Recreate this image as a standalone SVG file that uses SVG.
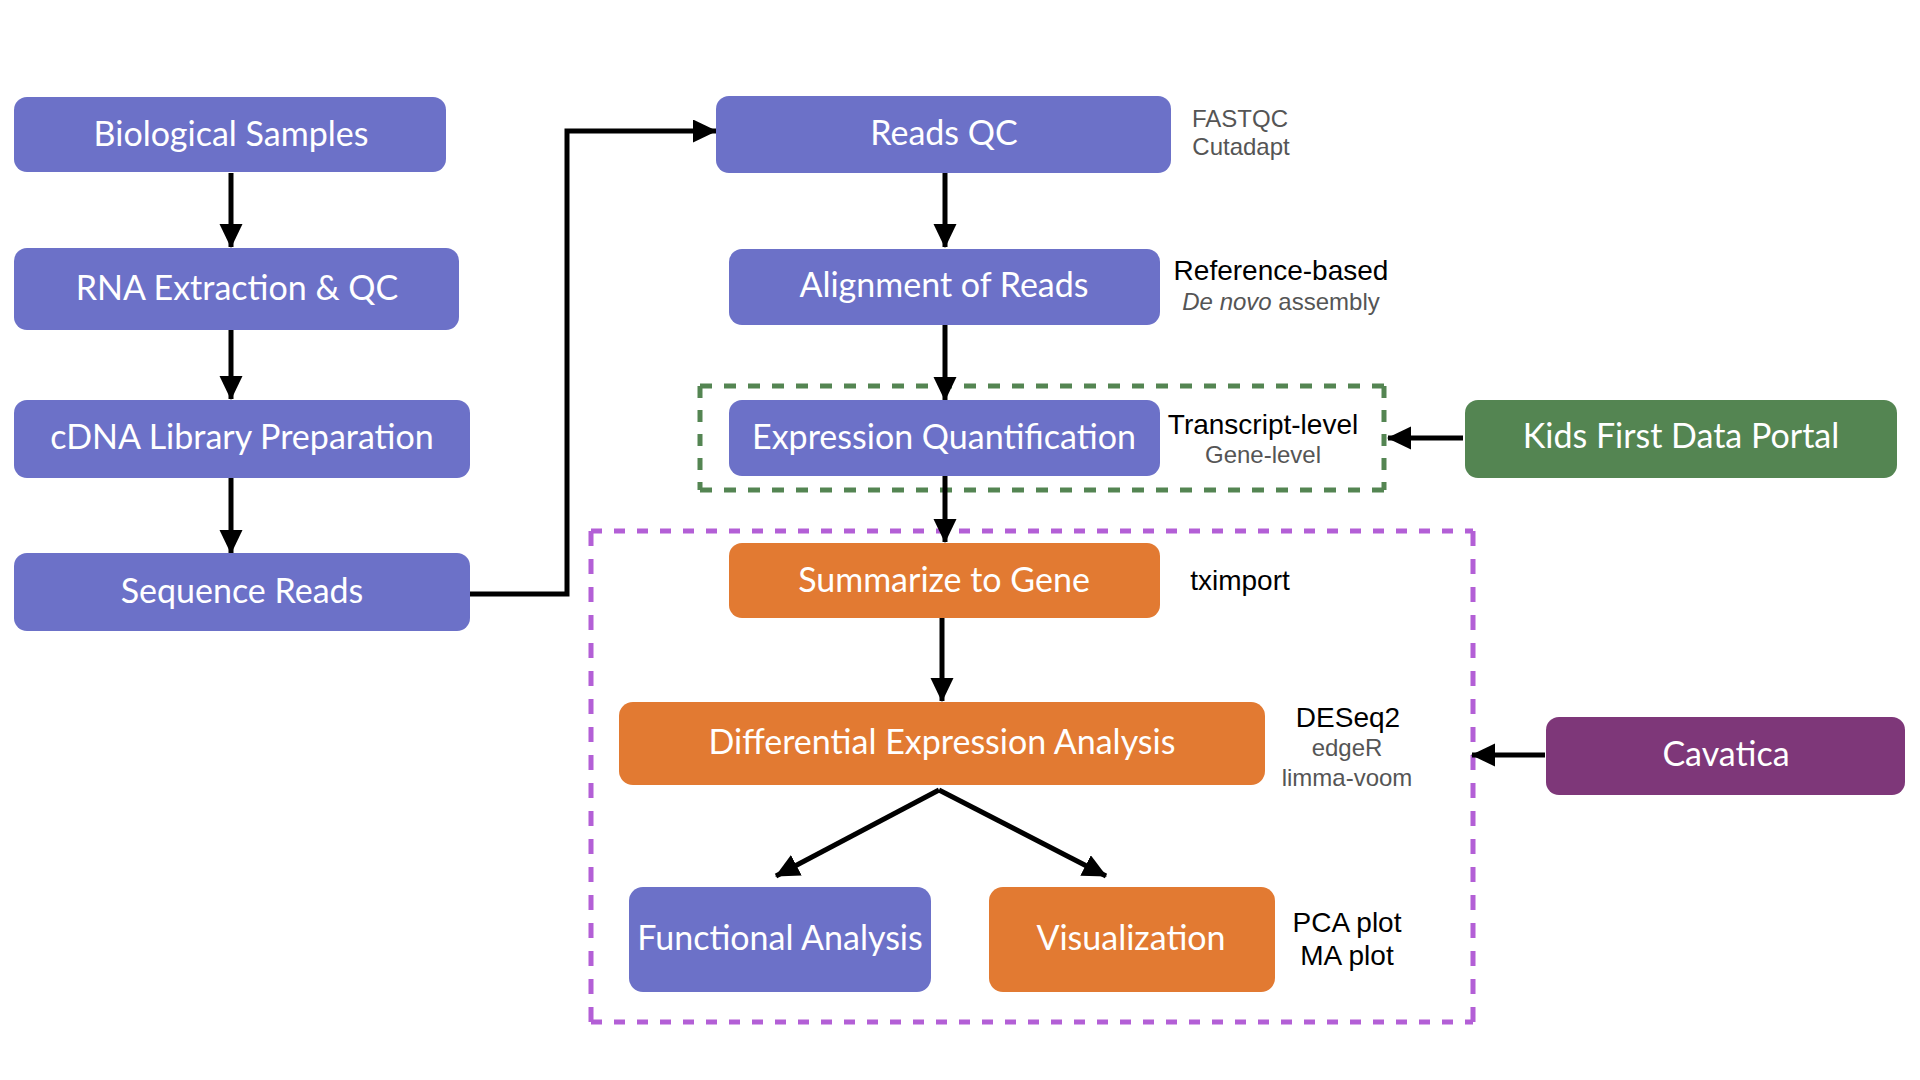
<svg xmlns="http://www.w3.org/2000/svg" width="1920" height="1080" viewBox="0 0 1920 1080">
<style>
.blue{fill:#6c71c8}
.orange{fill:#e27a32}
.green{fill:#548552}
.plum{fill:#7e3779}
.nt{font-family:Lato,"Open Sans",sans-serif;font-size:34px;fill:#ffffff;text-anchor:middle}
.lb{font-family:"Liberation Sans",Arial,sans-serif;font-size:28px;fill:#000000;text-anchor:middle}
.lg{font-family:"Liberation Sans",Arial,sans-serif;font-size:24px;fill:#555555;text-anchor:middle}
.conn{stroke:#000;stroke-width:5;fill:none}
.gd{stroke:#548552;stroke-width:5;fill:none;stroke-dasharray:12 12}
.pdh{stroke:#b35fd6;stroke-width:5;fill:none;stroke-dasharray:11 12}
.pdv{stroke:#b35fd6;stroke-width:5;fill:none;stroke-dasharray:15 13}
</style>
<defs>
<marker id="ah" markerUnits="userSpaceOnUse" markerWidth="24" markerHeight="24" refX="23" refY="11.5" orient="auto">
<path d="M0,0 L24,11.5 L0,23 z" fill="#000"/>
</marker>
</defs>
<rect width="1920" height="1080" fill="#ffffff"/>

<g id="groups">
<g id="green-box">
<line class="gd" x1="700" y1="386" x2="1384" y2="386"/>
<line class="gd" x1="700" y1="490" x2="1384" y2="490"/>
<line class="gd" x1="700" y1="386" x2="700" y2="490"/>
<line class="gd" x1="1384" y1="386" x2="1384" y2="490"/>
</g>
<g id="purple-box">
<line class="pdh" x1="591" y1="531" x2="1473" y2="531"/>
<line class="pdh" x1="591" y1="1022" x2="1473" y2="1022"/>
<line class="pdv" x1="591" y1="531" x2="591" y2="1022"/>
<line class="pdv" x1="1473" y1="531" x2="1473" y2="1022"/>
</g>
</g>

<g id="connectors">
<line class="conn" x1="231" y1="173" x2="231" y2="247" marker-end="url(#ah)"/>
<line class="conn" x1="231" y1="330" x2="231" y2="399" marker-end="url(#ah)"/>
<line class="conn" x1="231" y1="478" x2="231" y2="553" marker-end="url(#ah)"/>
<polyline class="conn" points="470,594 567,594 567,131 716,131" marker-end="url(#ah)"/>
<line class="conn" x1="945" y1="173" x2="945" y2="247" marker-end="url(#ah)"/>
<line class="conn" x1="945" y1="325" x2="945" y2="400" marker-end="url(#ah)"/>
<line class="conn" x1="945" y1="476" x2="945" y2="542" marker-end="url(#ah)"/>
<line class="conn" x1="942" y1="618" x2="942" y2="701" marker-end="url(#ah)"/>
<line class="conn" x1="939" y1="790" x2="776" y2="876" marker-end="url(#ah)"/>
<line class="conn" x1="939" y1="790" x2="1106" y2="876" marker-end="url(#ah)"/>
<line class="conn" x1="1463" y1="438" x2="1388" y2="438" marker-end="url(#ah)"/>
<line class="conn" x1="1545" y1="755" x2="1472" y2="755" marker-end="url(#ah)"/>
</g>

<g id="n-bio"><rect class="blue" x="14" y="97" width="432" height="75" rx="13"/><text class="nt" x="231" y="146">Biological Samples</text></g>
<g id="n-rna"><rect class="blue" x="14" y="248" width="445" height="82" rx="13"/><text class="nt" x="237" y="300">RNA Extraction &amp; QC</text></g>
<g id="n-cdna"><rect class="blue" x="14" y="400" width="456" height="78" rx="13"/><text class="nt" x="242" y="449">cDNA Library Preparation</text></g>
<g id="n-seq"><rect class="blue" x="14" y="553" width="456" height="78" rx="13"/><text class="nt" x="242" y="603">Sequence Reads</text></g>
<g id="n-qc"><rect class="blue" x="716" y="96" width="455" height="77" rx="13"/><text class="nt" x="944" y="145">Reads QC</text></g>
<g id="n-align"><rect class="blue" x="729" y="249" width="431" height="76" rx="13"/><text class="nt" x="944" y="297">Alignment of Reads</text></g>
<g id="n-quant"><rect class="blue" x="729" y="400" width="431" height="76" rx="13"/><text class="nt" x="944" y="449">Expression Quantification</text></g>
<g id="n-sum"><rect class="orange" x="729" y="543" width="431" height="75" rx="13"/><text class="nt" x="944" y="592">Summarize to Gene</text></g>
<g id="n-dea"><rect class="orange" x="619" y="702" width="646" height="83" rx="14"/><text class="nt" x="942" y="754">Differential Expression Analysis</text></g>
<g id="n-func"><rect class="blue" x="629" y="887" width="302" height="105" rx="14"/><text class="nt" x="780" y="950">Functional Analysis</text></g>
<g id="n-vis"><rect class="orange" x="989" y="887" width="286" height="105" rx="14"/><text class="nt" x="1131" y="950">Visualization</text></g>
<g id="n-kids"><rect class="green" x="1465" y="400" width="432" height="78" rx="13"/><text class="nt" x="1681" y="448">Kids First Data Portal</text></g>
<g id="n-cav"><rect class="plum" x="1546" y="717" width="359" height="78" rx="13"/><text class="nt" x="1726" y="766">Cavatica</text></g>

<g id="labels">
<text class="lg" x="1240" y="127">FASTQC</text>
<text class="lg" x="1241" y="155">Cutadapt</text>
<text class="lb" x="1281" y="280">Reference-based</text>
<text class="lg" x="1281" y="310"><tspan font-style="italic">De novo</tspan> assembly</text>
<text class="lb" x="1263" y="434">Transcript-level</text>
<text class="lg" x="1263" y="463">Gene-level</text>
<text class="lb" x="1240" y="590">tximport</text>
<text class="lb" x="1348" y="727">DESeq2</text>
<text class="lg" x="1347" y="756">edgeR</text>
<text class="lg" x="1347" y="786">limma-voom</text>
<text class="lb" x="1347" y="932">PCA plot</text>
<text class="lb" x="1347" y="965">MA plot</text>
</g>
</svg>
